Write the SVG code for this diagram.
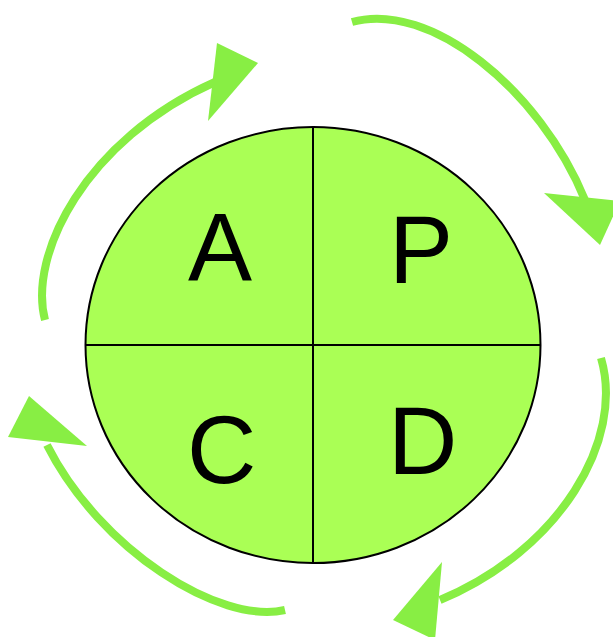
<svg xmlns="http://www.w3.org/2000/svg" width="613" height="637" viewBox="0 0 613 637">
<style>
.q{fill:#aaff55;stroke:#000;stroke-width:2}
.l{stroke:#000;stroke-width:2;fill:none}
.t{font-family:"Liberation Sans",Arial,sans-serif;font-size:96px;fill:#000}
.a{fill:none;stroke:#88ee44;stroke-width:8}
.h{fill:#88ee44}
</style>
<g id="circle">
<ellipse class="q" cx="313" cy="345" rx="227.5" ry="218"/>
<line class="l" x1="313" y1="127" x2="313" y2="563"/>
<line class="l" x1="85.5" y1="345" x2="540.5" y2="345"/>
</g>
<g id="node-A"><text class="t" x="188" y="280">A</text></g>
<g id="node-P"><text class="t" x="389" y="283">P</text></g>
<g id="node-C"><text class="t" x="187" y="483">C</text></g>
<g id="node-D"><text class="t" x="388" y="474">D</text></g>
<g id="connectors">
<path class="a" d="M45,320 C28,255 85,140 215,82"/>
<polygon class="h" points="217,43 258,63 208,121"/>
<path class="a" d="M352,22 C430,0 540,90 585,200"/>
<polygon class="h" points="544,193 620,201 600,245"/>
<path class="a" d="M601,358 C625,440 560,550 440,600"/>
<polygon class="h" points="442,562 393,620 435,640"/>
<path class="a" d="M285,610 C220,625 100,550 47,445"/>
<polygon class="h" points="29,396 8,437 87,446"/>
</g>
</svg>
